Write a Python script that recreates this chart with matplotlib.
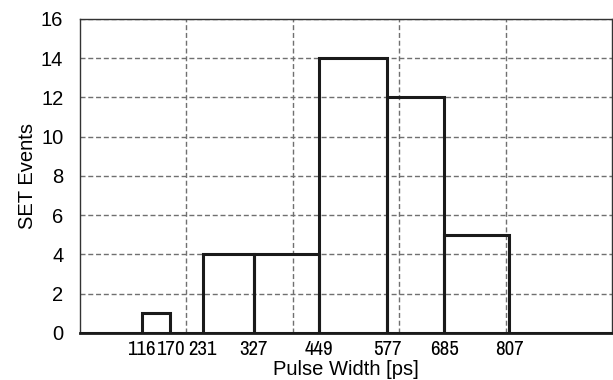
import matplotlib
matplotlib.use("Agg")
import matplotlib.pyplot as plt

# Histogram data
bin_edges = [0, 116, 170, 231, 327, 449, 577, 685, 807, 1000]
counts = [0, 1, 0, 4, 4, 14, 12, 5, 0]
tick_labels = ["116", "170", "231", "327", "449", "577", "685", "807"]
grid_x = [200, 400, 600, 800]

plt.rcParams["font.family"] = ["Liberation Sans", "DejaVu Sans"]
plt.rcParams["font.size"] = 14.5
narrow = ["Archivo Narrow", "Liberation Sans", "DejaVu Sans"]

fig = plt.figure(figsize=(6.13, 3.8), dpi=100)
ax = fig.add_axes([0.1305, 0.124, 0.868, 0.826])

ax.hist(bin_edges[:-1], bins=bin_edges, weights=counts,
        histtype="bar", fill=False, edgecolor="#1a1a1a", linewidth=2.2, zorder=3)

ax.set_xlim(0, 1000)
ax.set_ylim(0, 16)
ax.set_yticks(range(0, 17, 2))
ax.set_xticks([int(t) for t in tick_labels])
ax.set_xticklabels(tick_labels, family=narrow, fontsize=15)
ax.set_xticks(grid_x, minor=True)

dash = (0, (3.6, 2))
ax.grid(True, axis="y", which="major", linestyle=dash, color="#707070", linewidth=1)
ax.grid(True, axis="x", which="minor", linestyle=dash, color="#707070", linewidth=1)
ax.tick_params(which="both", length=0)
ax.tick_params(axis="y", pad=12)
ax.tick_params(axis="x", pad=5)

for side in ["top", "right", "left"]:
    ax.spines[side].set_color("#333333")
    ax.spines[side].set_linewidth(1)
ax.spines["bottom"].set_linewidth(2)
ax.spines["bottom"].set_color("#1a1a1a")

ax.set_xlabel("Pulse Width [ps]", labelpad=1)
ax.set_ylabel("SET Events", labelpad=3)

fig.savefig("out.png", dpi=100)
